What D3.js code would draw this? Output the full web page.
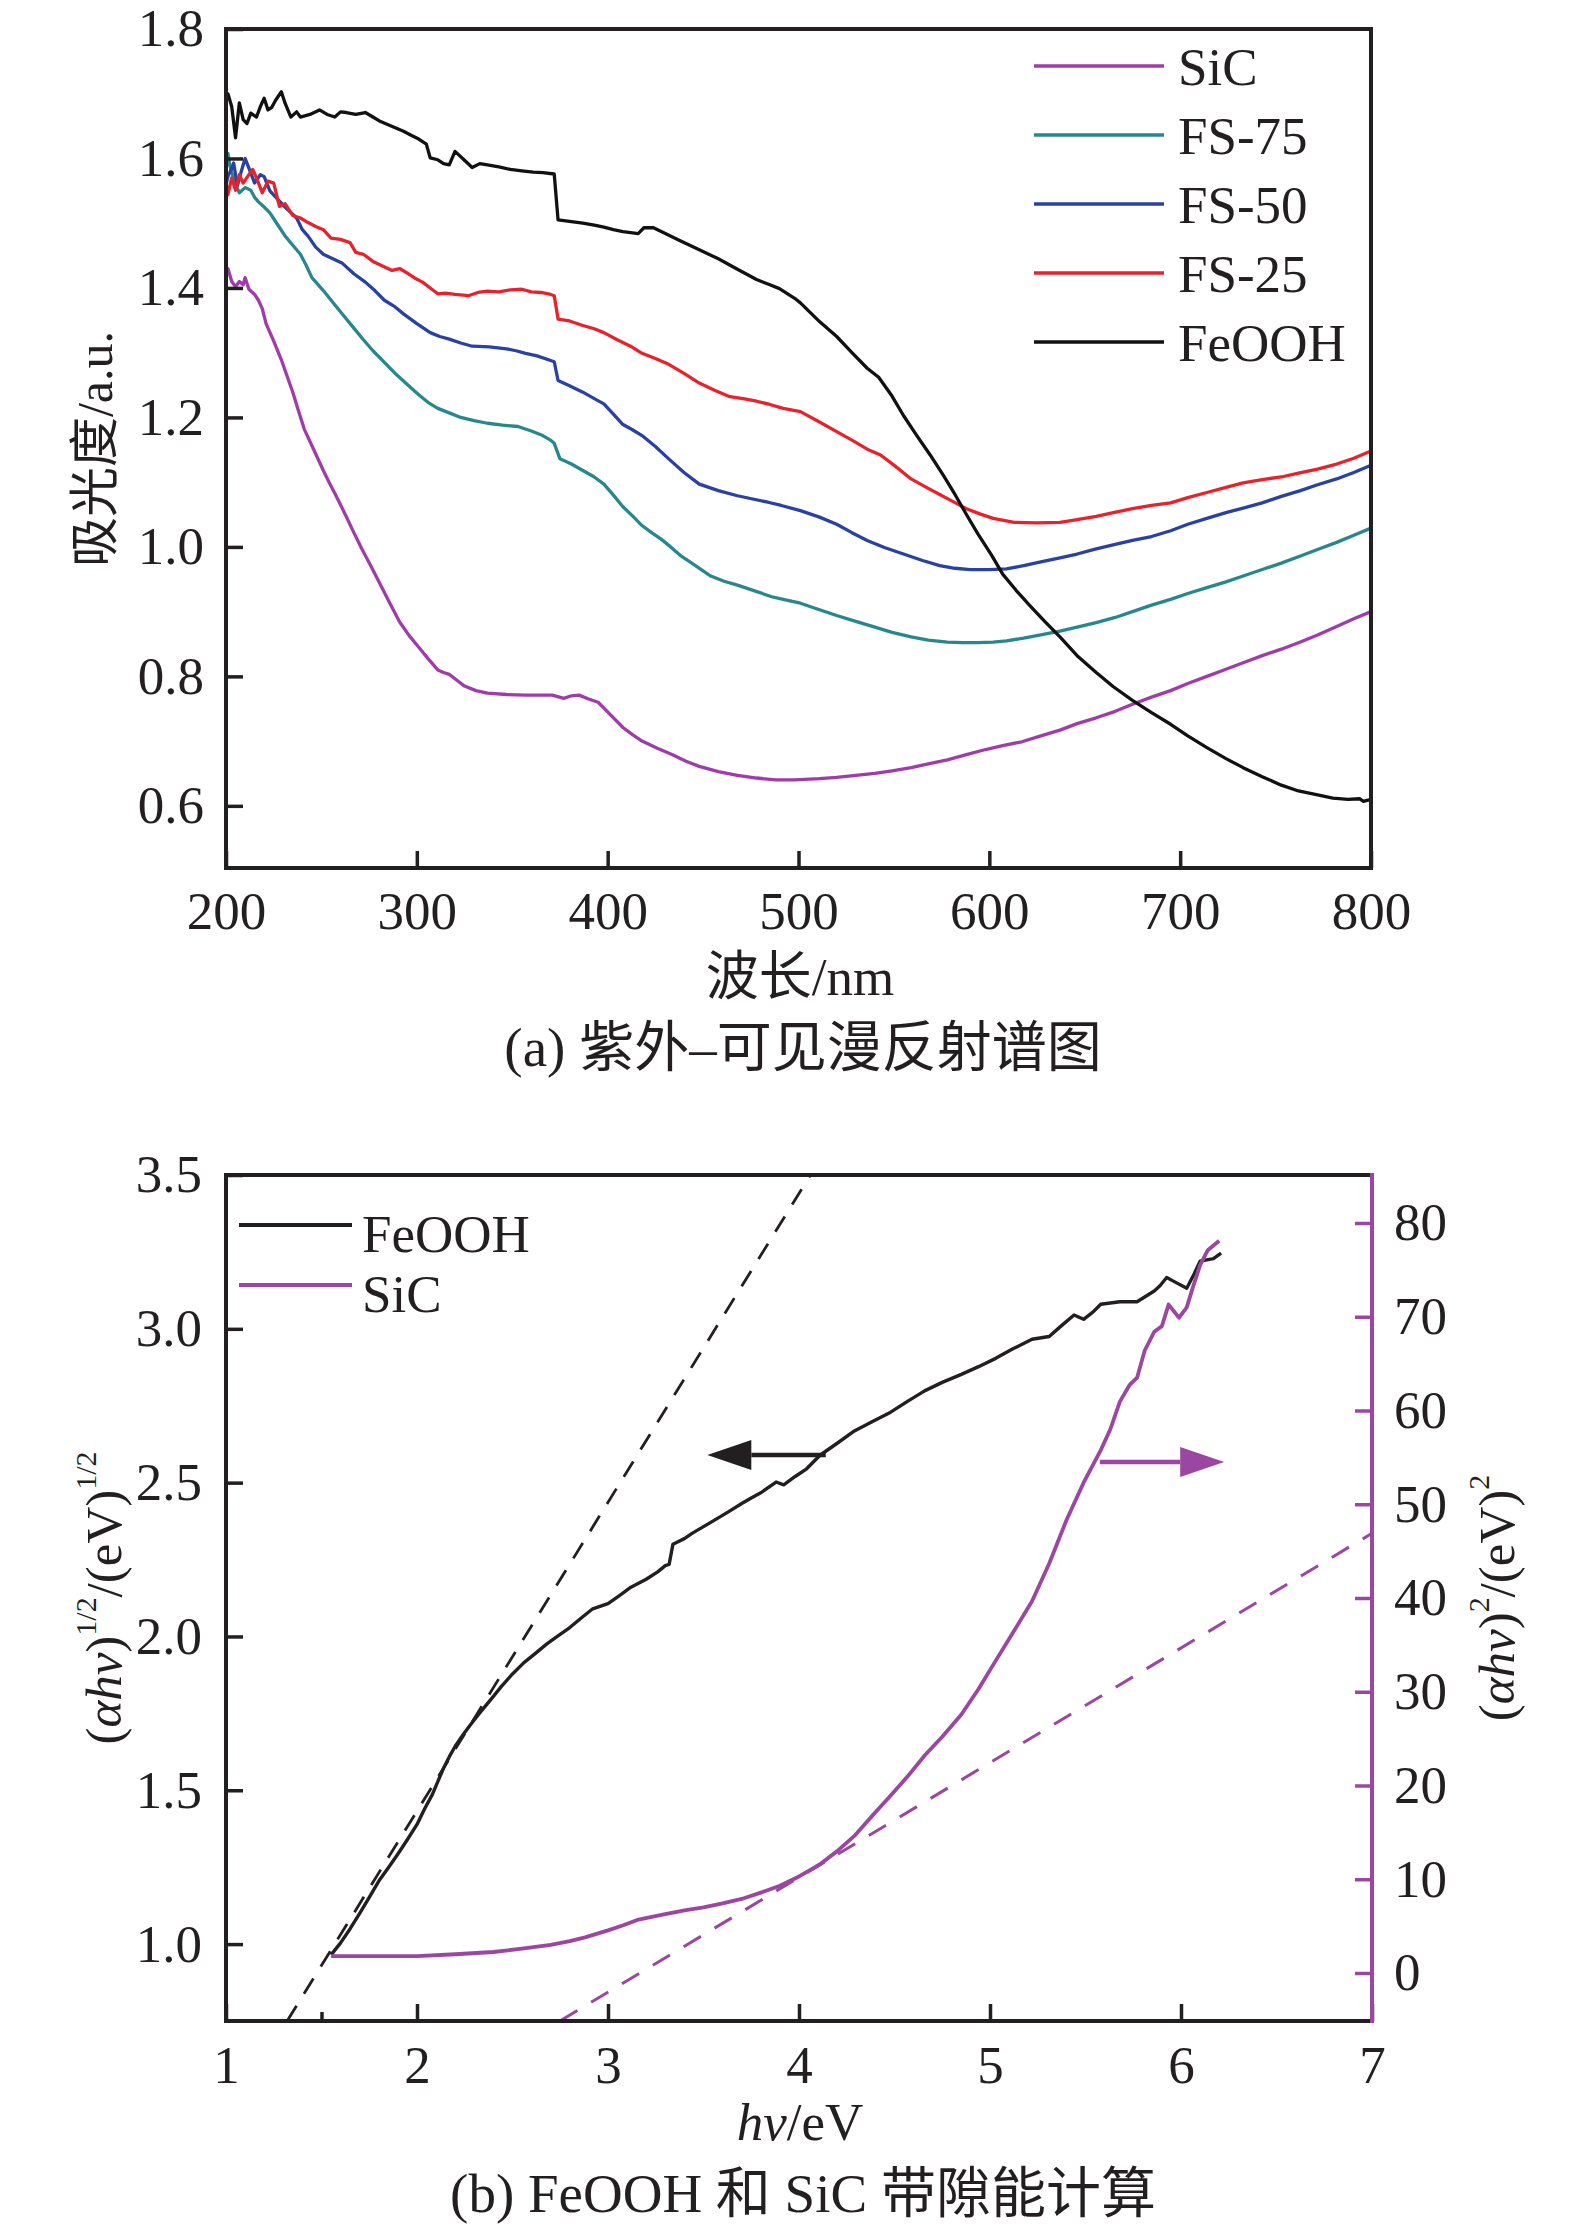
<!DOCTYPE html>
<html>
<head>
<meta charset="utf-8">
<script src="https://cdn.jsdelivr.net/npm/d3@7"></script>
<style>
  body { margin: 0; background: #fff; }
  text { font-family: "Liberation Serif", "Times New Roman", "Noto Sans CJK SC", serif; fill: #231f20; }
</style>
</head>
<body>
<svg id="chart" width="1575" height="2228"></svg>
<script>
// ---- (a) UV-vis diffuse reflectance, [wavelength nm, absorbance] ----
const sicUV = [[200,1.42],[201,1.430],[203,1.41],[205,1.402],[207,1.41],[209,1.405],[210,1.416],[212,1.398],[215,1.39],[217,1.381],[219,1.368],[221,1.345],[225,1.318],[229,1.289],[232,1.264],[235,1.239],[238,1.21],[241,1.182],[246,1.150],[251,1.118],[254,1.100],[257,1.083],[260,1.065],[263,1.047],[267,1.022],[271,0.998],[276,0.970],[281,0.941],[286,0.912],[291,0.884],[296,0.863],[301,0.845],[306,0.827],[311,0.810],[314,0.806],[317,0.803],[321,0.794],[325,0.785],[331,0.778],[337,0.774],[347,0.772],[357,0.771],[364,0.771],[371,0.771],[377,0.766],[381,0.770],[385,0.771],[390,0.765],[395,0.760],[401,0.742],[408,0.721],[413,0.710],[418,0.700],[426,0.689],[434,0.679],[441,0.669],[448,0.661],[458,0.653],[468,0.647],[478,0.643],[488,0.640],[498,0.640],[511,0.642],[520,0.644],[530,0.647],[540,0.650],[549,0.654],[559,0.659],[568,0.665],[578,0.671],[588,0.679],[598,0.687],[607,0.693],[617,0.699],[627,0.708],[637,0.717],[646,0.727],[656,0.736],[666,0.746],[675,0.757],[685,0.768],[695,0.778],[704,0.789],[714,0.800],[724,0.811],[733,0.821],[743,0.832],[753,0.842],[763,0.853],[772,0.864],[782,0.877],[791,0.889],[800,0.900]];

const fs75UV = [[200,1.58],[201,1.608],[202,1.59],[203,1.579],[205,1.56],[207,1.547],[210,1.555],[213,1.551],[215,1.54],[217,1.533],[220,1.525],[223,1.516],[227,1.498],[231,1.480],[235,1.466],[239,1.452],[242,1.435],[245,1.416],[251,1.396],[257,1.374],[262,1.356],[267,1.338],[272,1.320],[277,1.303],[283,1.285],[289,1.267],[295,1.251],[301,1.235],[306,1.223],[311,1.214],[317,1.207],[323,1.200],[330,1.195],[337,1.191],[345,1.188],[353,1.186],[360,1.179],[366,1.172],[370,1.165],[372,1.160],[375,1.136],[381,1.128],[387,1.118],[393,1.108],[398,1.097],[403,1.080],[408,1.062],[413,1.048],[418,1.033],[423,1.022],[428,1.012],[433,1.000],[438,0.987],[446,0.971],[454,0.955],[461,0.947],[468,0.941],[477,0.932],[486,0.923],[492,0.919],[501,0.913],[511,0.903],[520,0.894],[530,0.885],[540,0.876],[549,0.868],[559,0.861],[568,0.856],[578,0.853],[586,0.852],[594,0.852],[602,0.853],[609,0.855],[618,0.859],[627,0.864],[637,0.870],[646,0.876],[656,0.883],[666,0.891],[675,0.900],[685,0.910],[695,0.919],[704,0.928],[714,0.937],[724,0.946],[733,0.955],[743,0.965],[753,0.975],[763,0.986],[772,0.996],[782,1.007],[791,1.018],[800,1.029]];

const fs50UV = [[200,1.56],[201,1.572],[203,1.585],[204,1.593],[206,1.558],[208,1.58],[210,1.600],[212,1.585],[215,1.562],[218,1.575],[220,1.572],[223,1.55],[227,1.537],[232,1.522],[237,1.508],[240,1.49],[243,1.480],[247,1.463],[251,1.452],[256,1.445],[261,1.438],[267,1.422],[273,1.409],[278,1.396],[283,1.381],[288,1.372],[293,1.360],[300,1.345],[307,1.331],[312,1.325],[317,1.321],[323,1.315],[329,1.310],[338,1.309],[347,1.306],[352,1.303],[357,1.299],[363,1.295],[369,1.289],[372,1.286],[374,1.257],[380,1.249],[387,1.239],[393,1.229],[398,1.221],[403,1.205],[408,1.189],[413,1.181],[418,1.172],[425,1.155],[432,1.136],[440,1.115],[448,1.097],[458,1.087],[468,1.079],[476,1.074],[484,1.069],[491,1.064],[501,1.056],[511,1.046],[520,1.035],[528,1.022],[536,1.010],[545,0.999],[555,0.989],[565,0.979],[574,0.971],[582,0.967],[590,0.965],[600,0.965],[609,0.966],[618,0.971],[627,0.977],[637,0.983],[646,0.989],[656,0.997],[666,1.004],[675,1.010],[685,1.016],[695,1.025],[704,1.035],[714,1.044],[724,1.053],[733,1.060],[743,1.068],[753,1.078],[763,1.087],[772,1.096],[782,1.105],[791,1.115],[800,1.126]];

const fs25UV = [[200,1.55],[201,1.544],[203,1.57],[205,1.551],[207,1.575],[209,1.562],[212,1.575],[214,1.583],[216,1.57],[219,1.547],[222,1.565],[225,1.562],[228,1.526],[231,1.53],[235,1.512],[239,1.508],[243,1.501],[247,1.495],[251,1.49],[255,1.477],[260,1.475],[265,1.470],[268,1.455],[272,1.452],[277,1.441],[282,1.434],[287,1.427],[291,1.43],[295,1.423],[299,1.415],[303,1.409],[307,1.400],[311,1.391],[315,1.392],[320,1.390],[327,1.388],[332,1.393],[337,1.395],[343,1.394],[349,1.397],[355,1.398],[360,1.394],[365,1.393],[369,1.391],[372,1.388],[374,1.352],[380,1.349],[387,1.342],[393,1.337],[398,1.331],[405,1.320],[412,1.310],[418,1.299],[425,1.291],[432,1.282],[440,1.268],[448,1.253],[456,1.242],[464,1.232],[471,1.229],[478,1.225],[485,1.220],[492,1.214],[501,1.209],[511,1.193],[520,1.178],[528,1.165],[536,1.151],[543,1.142],[551,1.124],[559,1.105],[567,1.092],[574,1.081],[581,1.070],[588,1.059],[595,1.051],[602,1.044],[613,1.038],[625,1.037],[637,1.038],[646,1.042],[656,1.047],[665,1.053],[675,1.059],[685,1.064],[695,1.068],[704,1.076],[714,1.084],[724,1.092],[733,1.099],[743,1.104],[753,1.108],[762,1.114],[772,1.120],[782,1.128],[791,1.137],[800,1.148]];

const feoohUV = [[200,1.69],[201,1.700],[203,1.68],[205,1.632],[207,1.686],[209,1.66],[211,1.654],[213,1.67],[216,1.664],[218,1.68],[220,1.693],[222,1.675],[224,1.679],[226,1.69],[229,1.703],[231,1.685],[234,1.664],[237,1.672],[239,1.664],[244,1.668],[249,1.675],[253,1.668],[257,1.664],[260,1.672],[263,1.671],[268,1.668],[273,1.671],[277,1.664],[281,1.657],[285,1.652],[289,1.647],[293,1.642],[297,1.636],[301,1.630],[305,1.622],[307,1.601],[311,1.598],[314,1.592],[317,1.590],[320,1.611],[324,1.600],[329,1.586],[333,1.592],[337,1.590],[343,1.587],[349,1.583],[355,1.581],[361,1.579],[366,1.578],[372,1.576],[374,1.505],[380,1.503],[387,1.500],[393,1.497],[398,1.494],[403,1.490],[408,1.487],[416,1.484],[419,1.493],[424,1.493],[431,1.483],[438,1.473],[448,1.459],[458,1.445],[468,1.429],[478,1.413],[485,1.405],[490,1.399],[498,1.384],[501,1.377],[511,1.348],[520,1.325],[528,1.300],[536,1.276],[542,1.262],[549,1.233],[555,1.203],[562,1.172],[569,1.142],[576,1.110],[582,1.081],[588,1.050],[594,1.020],[601,0.988],[607,0.958],[614,0.933],[621,0.910],[629,0.885],[637,0.861],[646,0.832],[656,0.806],[665,0.784],[675,0.763],[685,0.744],[695,0.726],[704,0.708],[714,0.690],[724,0.673],[733,0.659],[743,0.645],[753,0.632],[762,0.623],[772,0.617],[780,0.612],[788,0.610],[794,0.611],[796,0.607],[800,0.610]];

const uvNames = ["SiC", "FS-75", "FS-50", "FS-25", "FeOOH"];
const uvColors = ["#a03caa", "#28878c", "#2941a0", "#e6232d", "#111111"];
const uvData = [sicUV, fs75UV, fs50UV, fs25UV, feoohUV];

const nmTicks = [200, 300, 400, 500, 600, 700, 800];
const absTicks = [0.6, 0.8, 1.0, 1.2, 1.4, 1.6, 1.8];

// ---- (b) band gap, [hv eV, value] ----
const feoohTauc = [[1.55,0.965],[1.60,1.004],[1.65,1.05],[1.70,1.100],[1.75,1.152],[1.80,1.205],[1.85,1.248],[1.90,1.293],[1.95,1.34],[2.00,1.389],[2.04,1.44],[2.08,1.486],[2.11,1.53],[2.14,1.573],[2.17,1.61],[2.20,1.643],[2.24,1.68],[2.28,1.713],[2.32,1.745],[2.36,1.775],[2.40,1.805],[2.44,1.836],[2.50,1.878],[2.56,1.915],[2.62,1.945],[2.68,1.976],[2.74,2.003],[2.80,2.029],[2.86,2.06],[2.92,2.090],[3.00,2.107],[3.06,2.133],[3.12,2.160],[3.20,2.186],[3.26,2.210],[3.30,2.230],[3.32,2.234],[3.34,2.300],[3.40,2.318],[3.44,2.335],[3.50,2.357],[3.56,2.379],[3.63,2.405],[3.70,2.432],[3.75,2.450],[3.80,2.467],[3.88,2.502],[3.92,2.493],[3.98,2.52],[4.04,2.545],[4.11,2.589],[4.20,2.628],[4.29,2.668],[4.38,2.697],[4.48,2.729],[4.57,2.765],[4.66,2.799],[4.75,2.826],[4.85,2.852],[4.94,2.877],[5.03,2.904],[5.12,2.935],[5.22,2.966],[5.31,2.975],[5.37,3.008],[5.44,3.045],[5.49,3.031],[5.54,3.055],[5.58,3.080],[5.68,3.088],[5.77,3.088],[5.86,3.123],[5.89,3.14],[5.925,3.167],[5.96,3.155],[6.03,3.132],[6.07,3.18],[6.10,3.220],[6.17,3.228],[6.21,3.246]];

const sicTauc = [[1.55,1.8],[1.8,1.8],[2.0,1.8],[2.2,2.0],[2.4,2.24],[2.55,2.6],[2.70,3.0],[2.80,3.4],[2.88,3.8],[3.00,4.55],[3.08,5.1],[3.16,5.7],[3.28,6.2],[3.40,6.68],[3.50,7.0],[3.60,7.42],[3.70,7.9],[3.80,8.57],[3.90,9.3],[4.00,10.3],[4.06,11.0],[4.11,11.6],[4.20,13.0],[4.29,14.62],[4.38,16.7],[4.48,18.93],[4.57,21.0],[4.66,23.25],[4.75,25.2],[4.85,27.57],[4.94,30.3],[5.03,33.32],[5.12,36.3],[5.22,39.65],[5.31,43.68],[5.40,48.29],[5.49,52.3],[5.58,55.77],[5.63,58.0],[5.68,60.95],[5.73,62.7],[5.77,63.5],[5.81,66.4],[5.86,68.4],[5.90,69.0],[5.935,71.3],[5.99,69.9],[6.03,71.0],[6.06,73.0],[6.10,75.5],[6.14,77.1],[6.20,78.1]];

const feoohFit = [[1.32, 0.75], [4.06, 3.5]];
const sicFit = [[2.75, -5.1], [7.0, 46.9]];
const feoohArrow = [[4.14, 2.59], [3.52, 2.59]];
const sicArrow = [[5.575, 54.5], [6.226, 54.5]];

const evTicks = [1, 2, 3, 4, 5, 6, 7];
const leftTicks = [1.0, 1.5, 2.0, 2.5, 3.0, 3.5];
const rightTicks = [0, 10, 20, 30, 40, 50, 60, 70, 80];

const ink = "#231f20";
const purple = "#9b46a0";
const fs = 53;

const svg = d3.select("#chart");
svg.append("rect").attr("width", 1575).attr("height", 2228).attr("fill", "#fff");

// ===================== (a) =====================
const x1 = d3.scaleLinear().domain([200, 800]).range([226, 1371]);
const y1 = d3.scaleLinear().domain([0.504, 1.8]).range([868, 29]);

const line1 = d3.line().x(d => x1(d[0])).y(d => y1(d[1]));

svg.append("g")
  .selectAll("path")
  .data(uvData)
  .join("path")
    .attr("d", line1)
    .attr("fill", "none")
    .attr("stroke", (d, i) => uvColors[i])
    .attr("stroke-width", 3.3)
    .attr("stroke-linejoin", "round");

const ax1 = svg.append("g")
    .attr("transform", `translate(0,${y1.range()[0]})`)
    .call(d3.axisBottom(x1).tickValues(nmTicks).tickSizeInner(-17).tickSizeOuter(0).tickPadding(23).tickFormat(d3.format("d")));
const ay1 = svg.append("g")
    .attr("transform", `translate(${x1.range()[0]},0)`)
    .call(d3.axisLeft(y1).tickValues(absTicks).tickSizeInner(-17).tickSizeOuter(0).tickPadding(22).tickFormat(d3.format(".1f")));

[ax1, ay1].forEach(g => {
  g.select(".domain").remove();
  g.attr("font-size", fs).attr("font-family", null);
  g.selectAll(".tick line").attr("stroke", ink).attr("stroke-width", 3.5);
  g.selectAll(".tick text").attr("fill", ink);
});

svg.append("rect")
    .attr("x", x1.range()[0]).attr("y", y1.range()[1])
    .attr("width", x1.range()[1] - x1.range()[0])
    .attr("height", y1.range()[0] - y1.range()[1])
    .attr("fill", "none").attr("stroke", ink).attr("stroke-width", 4);

// legend (a)
const leg1 = svg.append("g").selectAll("g")
  .data(uvNames)
  .join("g")
    .attr("transform", (d, i) => `translate(1034,${66 + i * 69})`);
leg1.append("line")
    .attr("x2", 130)
    .attr("stroke", (d, i) => uvColors[i])
    .attr("stroke-width", 3.5);
leg1.append("text")
    .attr("x", 144).attr("y", 19)
    .attr("font-size", fs)
    .text(d => d);

svg.append("text")
    .attr("transform", "translate(95,449) rotate(-90)")
    .attr("text-anchor", "middle").attr("dominant-baseline", "central")
    .attr("font-size", 50)
    .text("吸光度/a.u.");
svg.append("text")
    .attr("x", 800).attr("y", 995)
    .attr("text-anchor", "middle").attr("font-size", 53)
    .text("波长/nm");
svg.append("text")
    .attr("x", 803).attr("y", 1066)
    .attr("text-anchor", "middle").attr("font-size", 55)
    .text("(a) 紫外–可见漫反射谱图");

// ===================== (b) =====================
const x2 = d3.scaleLinear().domain([1, 7]).range([226, 1372]);
const yL = d3.scaleLinear().domain([0.75, 3.5]).range([2021, 1175]);
const yR = d3.scaleLinear().domain([-5.12, 85.12]).range([2021, 1175]);

svg.append("clipPath").attr("id", "clipB")
  .append("rect")
    .attr("x", x2.range()[0]).attr("y", yL.range()[1])
    .attr("width", x2.range()[1] - x2.range()[0])
    .attr("height", yL.range()[0] - yL.range()[1]);

const plotB = svg.append("g").attr("clip-path", "url(#clipB)");

const lineL = d3.line().x(d => x2(d[0])).y(d => yL(d[1]));
const lineR = d3.line().x(d => x2(d[0])).y(d => yR(d[1]));

plotB.append("path")
    .attr("d", lineL(feoohFit))
    .attr("fill", "none").attr("stroke", ink)
    .attr("stroke-width", 2.8).attr("stroke-dasharray", "18 14");
plotB.append("path")
    .attr("d", lineR(sicFit))
    .attr("fill", "none").attr("stroke", purple)
    .attr("stroke-width", 3).attr("stroke-dasharray", "20 16");

plotB.append("path")
    .attr("d", lineL(feoohTauc))
    .attr("fill", "none").attr("stroke", ink)
    .attr("stroke-width", 3.4).attr("stroke-linejoin", "round");
plotB.append("path")
    .attr("d", lineR(sicTauc))
    .attr("fill", "none").attr("stroke", purple)
    .attr("stroke-width", 3.8).attr("stroke-linejoin", "round");

// arrows pointing to each curve's axis
function arrow(pts, sy, color) {
  const xa = x2(pts[0][0]), xt = x2(pts[1][0]), yy = sy(pts[0][1]);
  const dir = Math.sign(xt - xa), len = 44, half = 15;
  svg.append("line")
      .attr("x1", xa).attr("x2", xt - dir * len)
      .attr("y1", yy).attr("y2", yy)
      .attr("stroke", color).attr("stroke-width", 4.5);
  svg.append("path")
      .attr("d", `M${xt},${yy}L${xt - dir * len},${yy - half}L${xt - dir * len},${yy + half}Z`)
      .attr("fill", color);
}
arrow(feoohArrow, yL, ink);
arrow(sicArrow, yR, purple);

const ax2 = svg.append("g")
    .attr("transform", `translate(0,${yL.range()[0]})`)
    .call(d3.axisBottom(x2).tickValues(evTicks).tickSizeInner(-17).tickSizeOuter(0).tickPadding(24).tickFormat(d3.format("d")));
const ax2m = svg.append("g")
    .attr("transform", `translate(0,${yL.range()[0]})`)
    .call(d3.axisBottom(x2).tickValues([1.5]).tickSizeInner(-9).tickSizeOuter(0).tickFormat(""));
const ayL = svg.append("g")
    .attr("transform", `translate(${x2.range()[0]},0)`)
    .call(d3.axisLeft(yL).tickValues(leftTicks).tickSizeInner(-17).tickSizeOuter(0).tickPadding(24).tickFormat(d3.format(".1f")));
const ayR = svg.append("g")
    .attr("transform", `translate(${x2.range()[1]},0)`)
    .call(d3.axisRight(yR).tickValues(rightTicks).tickSizeInner(-17).tickSizeOuter(0).tickPadding(22).tickFormat(d3.format("d")));

[ax2, ax2m, ayL, ayR].forEach(g => {
  g.select(".domain").remove();
  g.attr("font-size", fs).attr("font-family", null);
  g.selectAll(".tick line").attr("stroke", g === ayR ? purple : ink).attr("stroke-width", 3.5);
  g.selectAll(".tick text").attr("fill", ink);
});

// frame (b): black on three sides, purple right axis
const [bl, br] = x2.range(), [bb, bt] = yL.range();
svg.append("path")
    .attr("d", `M${br},${bt}L${bl},${bt}L${bl},${bb}L${br},${bb}`)
    .attr("fill", "none").attr("stroke", ink).attr("stroke-width", 4)
    .attr("stroke-linejoin", "miter");
svg.append("line")
    .attr("x1", br).attr("x2", br).attr("y1", bt - 2).attr("y2", bb + 2)
    .attr("stroke", purple).attr("stroke-width", 4);

// legend (b)
const leg2Names = ["FeOOH", "SiC"];
const leg2Colors = [ink, purple];
const leg2 = svg.append("g").selectAll("g")
  .data(leg2Names)
  .join("g")
    .attr("transform", (d, i) => `translate(239,${1225 + i * 60})`);
leg2.append("line")
    .attr("x2", 113)
    .attr("stroke", (d, i) => leg2Colors[i])
    .attr("stroke-width", 4.2);
leg2.append("text")
    .attr("x", 123).attr("y", 27)
    .attr("font-size", fs)
    .text(d => d);

// axis titles (b)
function tauc(sel, exp) {
  sel.append("tspan").text("(");
  sel.append("tspan").attr("font-style", "italic").text("αhv");
  sel.append("tspan").text(")");
  sel.append("tspan").attr("font-size", 30).attr("dy", -19).text(exp);
  sel.append("tspan").attr("dy", 19).text("/(eV)");
  sel.append("tspan").attr("font-size", 30).attr("dy", -19).text(exp);
}
svg.append("text")
    .attr("transform", "translate(104,1598) rotate(-90)")
    .attr("text-anchor", "middle").attr("dominant-baseline", "central")
    .attr("font-size", 51)
    .call(tauc, "1/2");
svg.append("text")
    .attr("transform", "translate(1497,1598) rotate(-90)")
    .attr("text-anchor", "middle").attr("dominant-baseline", "central")
    .attr("font-size", 51)
    .call(tauc, "2");

const xt2 = svg.append("text")
    .attr("x", 800).attr("y", 2140)
    .attr("text-anchor", "middle").attr("font-size", 53);
xt2.append("tspan").attr("font-style", "italic").text("hv");
xt2.append("tspan").text("/eV");

svg.append("text")
    .attr("x", 803).attr("y", 2212)
    .attr("text-anchor", "middle").attr("font-size", 55)
    .text("(b) FeOOH 和 SiC 带隙能计算");
</script>
</body>
</html>
